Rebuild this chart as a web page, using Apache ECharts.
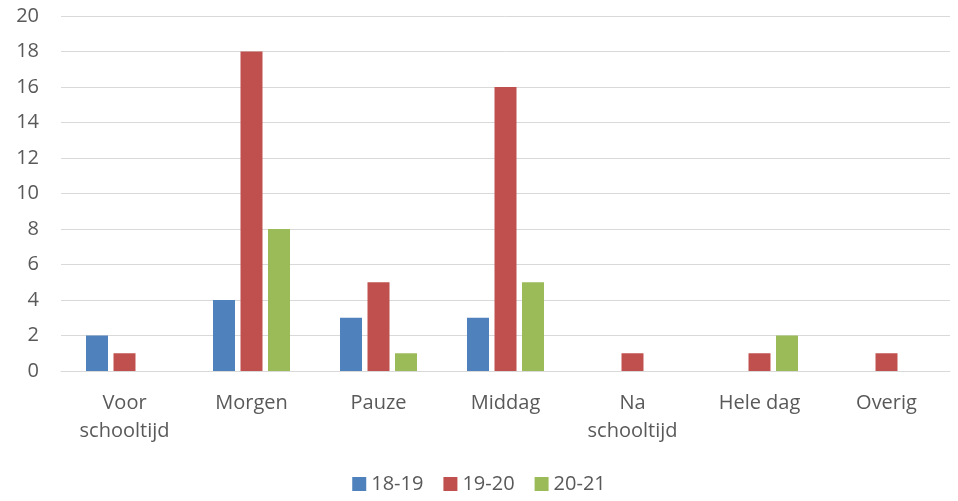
<!DOCTYPE html>
<html><head><meta charset="utf-8">
<script src="https://cdn.jsdelivr.net/npm/echarts@6/dist/echarts.min.js"></script>
<style>html,body{margin:0;padding:0;background:#fff}#c{width:958px;height:501px}</style>
</head><body><div id="c"></div>
<script>
const categories = ['Voor\nschooltijd', 'Morgen', 'Pauze', 'Middag', 'Na\nschooltijd', 'Hele dag', 'Overig'];
const s1819 = [2, 4, 3, 3, 0, 0, 0];
const s1920 = [1, 18, 5, 16, 1, 1, 1];
const s2021 = [0, 8, 1, 5, 0, 2, 0];
const seriesNames = ['18-19', '19-20', '20-21'];
const colors = ['#4F81BD', '#C0504D', '#9BBB59'];
const font = '"Open Sans", "Liberation Sans", sans-serif';
const chart = echarts.init(document.getElementById('c'));
const mk = (name, data, i) => ({
  name, type: 'bar', data: data.map(v => v === 0 ? null : v), barWidth: 22, barGap: '25%',
  itemStyle: { color: colors[i] }
});
chart.setOption({
  animation: false,
  color: colors,
  grid: { left: 61, right: 8, top: 16, bottom: 130 },
  legend: {
    bottom: 2, left: 'center', itemWidth: 14, itemHeight: 14, itemGap: 20,
    icon: 'rect',
    textStyle: { color: '#595959', fontSize: 20, fontFamily: font },
    data: seriesNames
  },
  xAxis: {
    type: 'category', data: categories,
    axisLine: { lineStyle: { color: '#d9d9d9' } },
    axisTick: { show: false },
    axisLabel: { color: '#595959', fontSize: 20, fontFamily: font, margin: 18, lineHeight: 28, interval: 0 }
  },
  yAxis: {
    type: 'value', min: 0, max: 20, interval: 2,
    axisLine: { show: false }, axisTick: { show: false },
    splitLine: { lineStyle: { color: '#d9d9d9', width: 1 } },
    axisLabel: { color: '#595959', fontSize: 20, fontFamily: font, margin: 22 }
  },
  series: [mk(seriesNames[0], s1819, 0), mk(seriesNames[1], s1920, 1), mk(seriesNames[2], s2021, 2)]
});
</script></body></html>
